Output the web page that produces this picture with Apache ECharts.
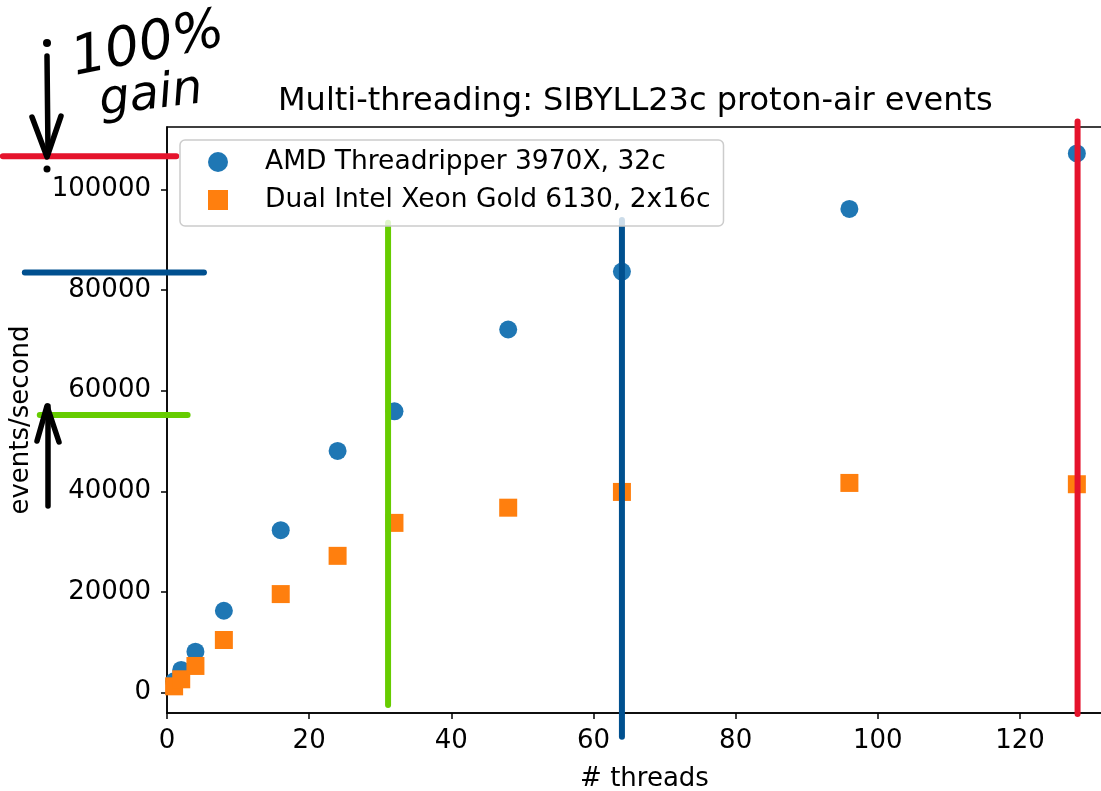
<!DOCTYPE html>
<html>
<head>
<meta charset="utf-8">
<script src="https://cdn.jsdelivr.net/npm/echarts@6/dist/echarts.min.js"></script>
<style>
  html, body { margin: 0; padding: 0; background: #fff; }
  #chart { width: 1101px; height: 791px; }
</style>
</head>
<body>
<div id="chart"></div>
<script>
/* 数据 */
var threads = [1, 2, 4, 8, 16, 24, 32, 48, 64, 96, 128];
var amdRate = [2250, 4500, 8130, 16270, 32280, 48020, 55890, 72160, 83670, 96110, 107140];
var intelRate = [1250, 2650, 5300, 10460, 19580, 27180, 33730, 36750, 39880, 41670, 41410];
var xTicks = [0, 20, 40, 60, 80, 100, 120];
var yTicks = [0, 20000, 40000, 60000, 80000, 100000];
var seriesNames = ['AMD Threadripper 3970X, 32c', 'Dual Intel Xeon Gold 6130, 2x16c'];

/* 手绘标注线 (数据坐标) */
var greenV = [[31.1, -2440], [31.1, 93390]];
var blueV = [[64, -8790], [64, 93940]];
var redV = [[128.1, -4230], [128.1, 113490]];
var redH = [[-23.1, 106600], [1.3, 106600]];
var blueH = [[-20.0, 83470], [5.2, 83470]];
var greenH = [[-17.9, 55160], [2.9, 55160]];

var RED = '#e5132c', BLUE = '#00508f', GREEN = '#66cc00';

function pairs(xs, ys) {
  var out = [];
  for (var i in xs) {
    out.push([xs[i], ys[i]]);
  }
  return out;
}

function guide(data, color) {
  return {
    type: 'line',
    data: data,
    symbol: 'none',
    clip: false,
    silent: true,
    z: 5,
    lineStyle: { color: color, width: 6, cap: 'round' }
  };
}

function chart() {
  var chart = echarts.init(document.getElementById('chart'));
  var black = '#000';
  var ink = { stroke: black, lineWidth: 5.5, lineCap: 'round', lineJoin: 'round', fill: null };
  var graphics = [
    // 手写 "100% gain"
    {
      id: 'w100', type: 'text', x: 148, y: 46, rotation: 0.2, z: 20,
      style: { text: '100%', font: 'italic 54px "DejaVu Sans"', fill: black, align: 'center', verticalAlign: 'middle' }
    },
    {
      id: 'wgain', type: 'text', x: 151, y: 96, rotation: 0.12, z: 20,
      style: { text: 'gain', font: 'italic 48px "DejaVu Sans"', fill: black, align: 'center', verticalAlign: 'middle' }
    },
    // 向下箭头
    { id: 'd1', type: 'circle', z: 20, shape: { cx: 47, cy: 43, r: 4 }, style: { fill: black } },
    { id: 'd2', type: 'polyline', z: 20, shape: { points: [[47, 56], [48, 153]] }, style: ink },
    { id: 'd3', type: 'polyline', z: 20, shape: { points: [[32, 117], [47, 157], [61, 116]] }, style: ink },
    { id: 'd4', type: 'circle', z: 20, shape: { cx: 47, cy: 169, r: 3.5 }, style: { fill: black } },
    // 向上箭头
    { id: 'u1', type: 'polyline', z: 20, shape: { points: [[48, 506], [48, 406]] }, style: ink },
    { id: 'u2', type: 'polyline', z: 20, shape: { points: [[37, 441], [47, 406], [59, 442]] }, style: ink }
  ];
  var options = {
    animation: false,
    backgroundColor: '#fff',
    textStyle: { fontFamily: 'DejaVu Sans', color: black },
    title: {
      text: 'Multi-threading: SIBYLL23c proton-air events',
      left: 278,
      top: 86,
      padding: 0,
      textStyle: { fontSize: 32, fontWeight: 'normal', color: black, fontFamily: 'DejaVu Sans' }
    },
    legend: {
      data: seriesNames,
      orient: 'vertical',
      left: 180,
      top: 140,
      itemWidth: 20,
      itemHeight: 20,
      itemGap: 8,
      padding: [7, 13, 11, 28],
      backgroundColor: 'rgba(255,255,255,0.8)',
      borderColor: '#cccccc',
      borderWidth: 1.5,
      borderRadius: 5,
      z: 10,
      textStyle: { fontSize: 26.5, color: black, lineHeight: 30, padding: [0, 0, 0, 32] }
    },
    grid: {
      left: 167,
      top: 127,
      width: 955,
      height: 586,
      show: true,
      borderColor: black,
      borderWidth: 1.5,
      outerBoundsMode: 'none'
    },
    xAxis: {
      type: 'value',
      min: 0,
      max: 134.35,
      name: '# threads',
      nameLocation: 'middle',
      nameGap: 53,
      nameTextStyle: { fontSize: 26, color: black },
      splitLine: { show: false },
      axisLine: { show: true, onZero: false, lineStyle: { color: black, width: 1.5 } },
      axisTick: { show: true, length: 6, lineStyle: { color: black, width: 1.5 }, customValues: xTicks },
      axisLabel: { fontSize: 26, color: black, margin: 15, customValues: xTicks }
    },
    yAxis: {
      type: 'value',
      min: -4050,
      max: 112400,
      name: 'events/second',
      nameLocation: 'middle',
      nameGap: 133,
      nameTextStyle: { fontSize: 26, color: black },
      splitLine: { show: false },
      axisLine: { show: true, onZero: false, lineStyle: { color: black, width: 1.5 } },
      axisTick: { show: true, length: 6, lineStyle: { color: black, width: 1.5 }, customValues: yTicks },
      axisLabel: {
        fontSize: 26, color: black, margin: 16, customValues: yTicks,
        formatter: function (v) { return String(v); }
      }
    },
    series: [
      {
        name: seriesNames[0],
        type: 'scatter',
        symbol: 'circle',
        symbolSize: 18,
        itemStyle: { color: '#1f77b4', opacity: 1 },
        data: pairs(threads, amdRate)
      },
      {
        name: seriesNames[1],
        type: 'scatter',
        symbol: 'rect',
        symbolSize: 18,
        itemStyle: { color: '#ff7f0e', opacity: 1 },
        data: pairs(threads, intelRate)
      },
      guide(greenV, GREEN),
      guide(blueV, BLUE),
      guide(redV, RED)
    ],
    graphic: graphics
  };
  chart.setOption(options);

  /* 横向标注线在绘图区外, 用坐标系换算成像素后画 */
  var hGuides = [[redH, RED], [blueH, BLUE], [greenH, GREEN]];
  var extra = [];
  for (var k in hGuides) {
    var a = chart.convertToPixel({ gridIndex: 0 }, hGuides[k][0][0]);
    var b = chart.convertToPixel({ gridIndex: 0 }, hGuides[k][0][1]);
    extra.push({
      id: 'h' + k, type: 'line', z: 5,
      shape: { x1: a[0], y1: a[1], x2: b[0], y2: b[1] },
      style: { stroke: hGuides[k][1], lineWidth: 6, lineCap: 'round' }
    });
  }
  chart.setOption({ graphic: graphics.concat(extra) }, { replaceMerge: ['graphic'] });
}

chart();
</script>
</body>
</html>
